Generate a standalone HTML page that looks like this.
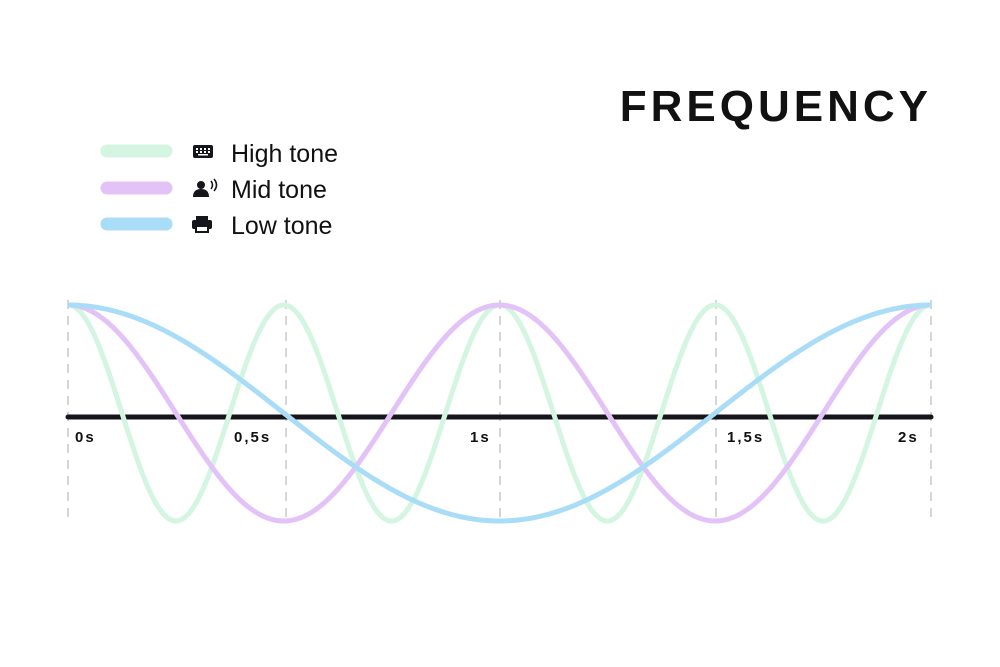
<!DOCTYPE html>
<html><head><meta charset="utf-8"><style>
html,body{margin:0;padding:0;background:#fff;}
svg{display:block;font-family:"Liberation Sans",sans-serif;}
</style></head><body>
<svg width="1000" height="667" viewBox="0 0 1000 667" xmlns="http://www.w3.org/2000/svg">
<text x="932" y="121" text-anchor="end" font-size="44" font-weight="bold" letter-spacing="4" fill="#111">FREQUENCY</text>
<g stroke-linecap="round" stroke-width="13">
<line x1="107" y1="151" x2="166" y2="151" stroke="#d3f5e1"/>
<line x1="107" y1="188" x2="166" y2="188" stroke="#e3c3f7"/>
<line x1="107" y1="224" x2="166" y2="224" stroke="#a9ddf7"/>
</g>
<g fill="#14161c">
<rect x="193" y="145" width="20" height="13" rx="2"/>
<circle cx="201" cy="185" r="4"/><path d="M193 197 q0-8 8-8 q8 0 8 8z"/>
<path d="M211 181 q3 4 0 8 M214 179 q5 6 0 12" stroke="#14161c" stroke-width="1.6" fill="none"/>
<rect x="196" y="216" width="12" height="4"/><rect x="192" y="220" width="20" height="9" rx="2"/><rect x="196" y="226" width="12" height="6" fill="#fff" stroke="#14161c" stroke-width="2"/>
</g>
<g fill="#fff"><rect x="196" y="148" width="2" height="2"/><rect x="200" y="148" width="2" height="2"/><rect x="204" y="148" width="2" height="2"/><rect x="208" y="148" width="2" height="2"/><rect x="196" y="151" width="2" height="2"/><rect x="200" y="151" width="2" height="2"/><rect x="204" y="151" width="2" height="2"/><rect x="208" y="151" width="2" height="2"/><rect x="198" y="154" width="10" height="1.5"/></g>
<g font-size="25" fill="#111">
<text x="231" y="162">High tone</text>
<text x="231" y="198">Mid tone</text>
<text x="231" y="234">Low tone</text>
</g>
<g stroke="#b5b5b5" stroke-width="1.1" stroke-dasharray="9 7">
<line x1="68" y1="300" x2="68" y2="522"/><line x1="286" y1="300" x2="286" y2="522"/><line x1="500" y1="300" x2="500" y2="522"/><line x1="716" y1="300" x2="716" y2="522"/><line x1="931" y1="300" x2="931" y2="522"/>
</g>
<line x1="68" y1="417" x2="931" y2="417" stroke="#14161c" stroke-width="5" stroke-linecap="round"/>
<g fill="none" stroke-width="5">
<path id="g" stroke="#d3f5e1"/>
<path id="p" stroke="#e3c3f7"/>
<path id="b" stroke="#a9ddf7"/>
</g>
<g font-size="15" font-weight="bold" fill="#111" letter-spacing="2">
<text x="75" y="442">0s</text>
<text x="234" y="442">0,5s</text>
<text x="470" y="442">1s</text>
<text x="727" y="442">1,5s</text>
<text x="898" y="442">2s</text>
</g>
<script>
function mk(id,n){var d="";for(var i=0;i<=863;i++){var x=68+i,y=413-108*Math.cos(2*Math.PI*n*i/863);d+=(i?"L":"M")+x+" "+y.toFixed(2);}document.getElementById(id).setAttribute("d",d);}
mk("g",4);mk("p",2);mk("b",1);
</script>
</svg>
</body></html>
